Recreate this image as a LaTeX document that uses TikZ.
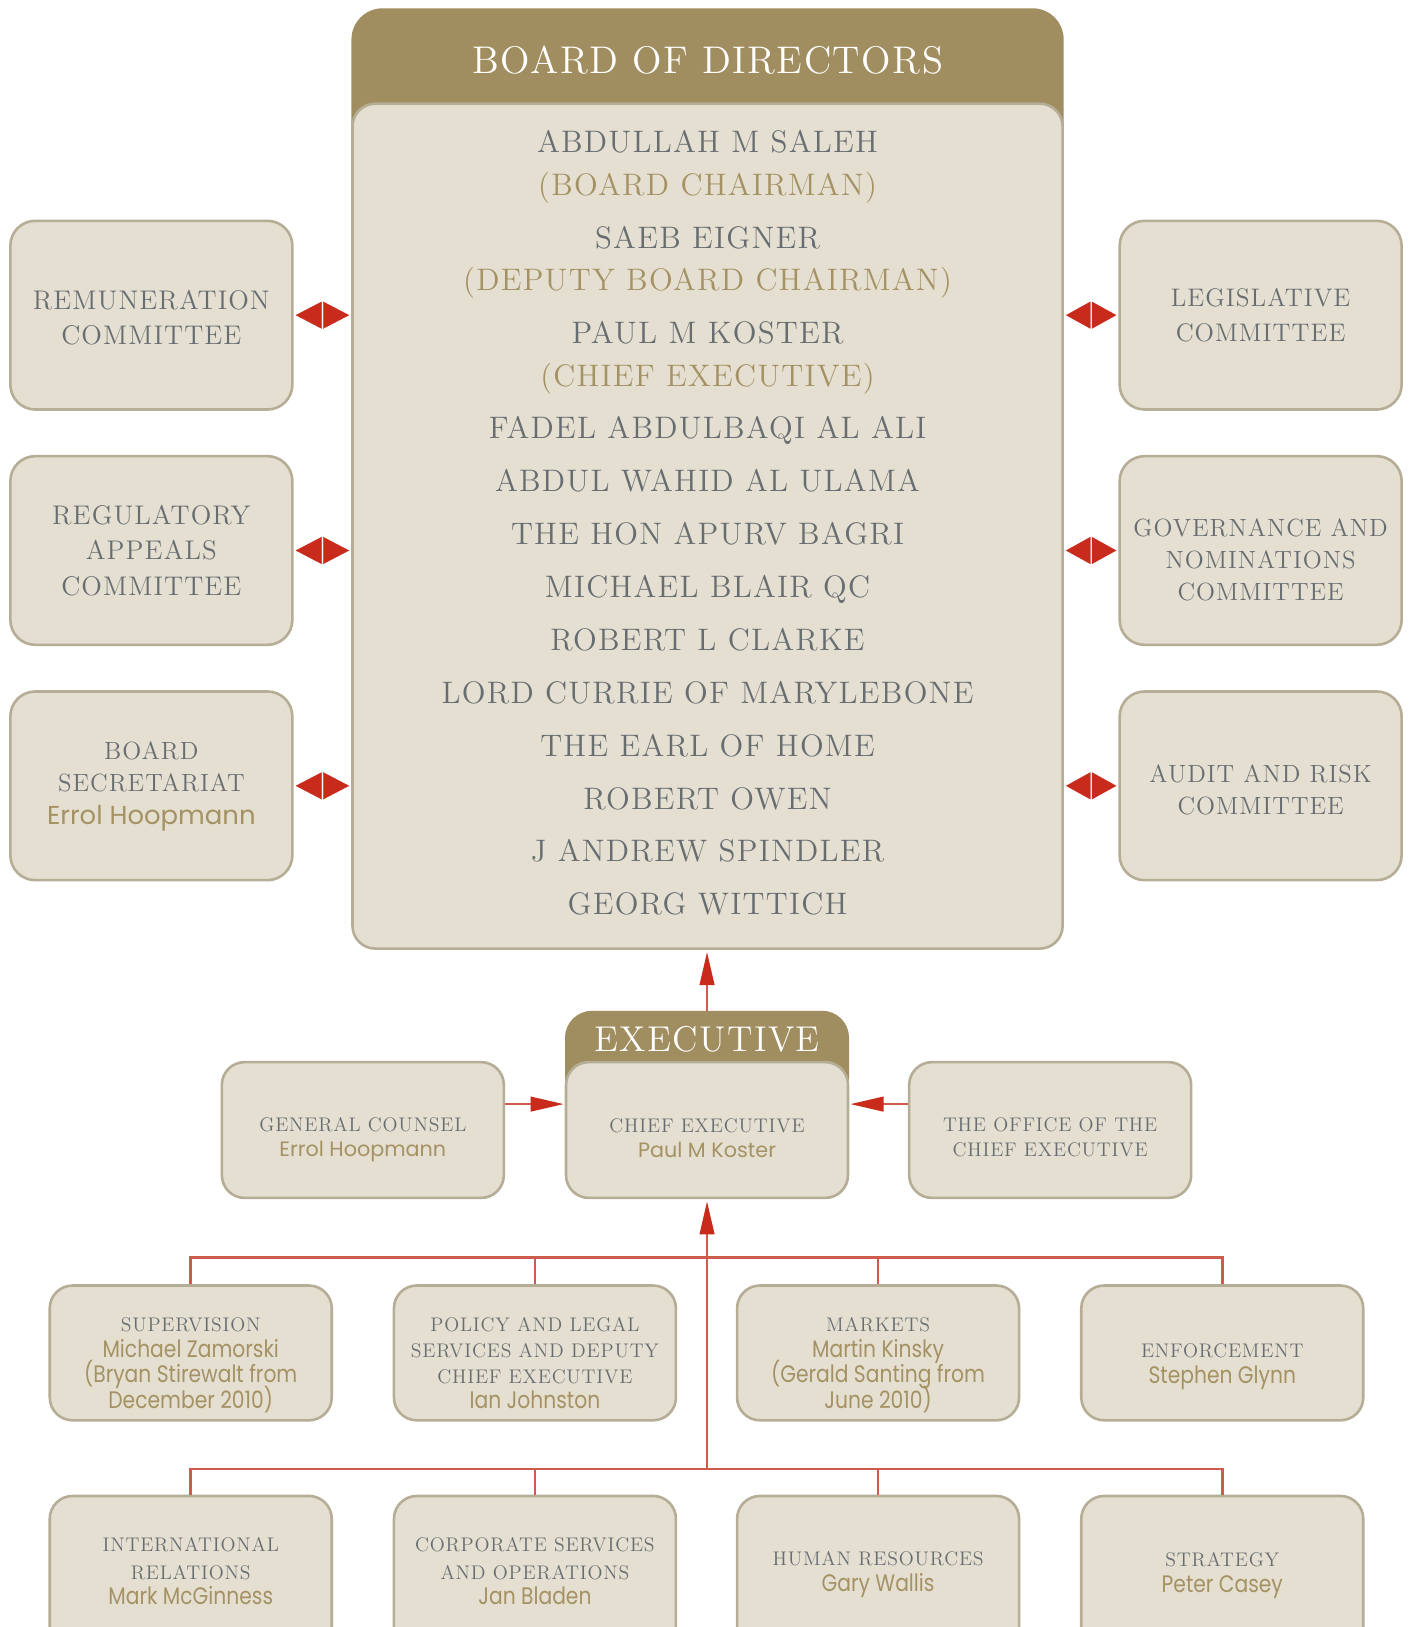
\documentclass[tikz,border=0pt]{standalone}
\usepackage{fontspec}
\usetikzlibrary{arrows.meta}
\newfontfamily\capfont{lmroman12-regular.otf}[LetterSpace=4]
\newfontfamily\namefont{Poppins}
\newfontfamily\namefontc{Poppins}[FakeStretch=0.85]
\definecolor{gold}{RGB}{161,142,96}
\definecolor{goldtext}{RGB}{165,146,100}
\definecolor{boxfill}{RGB}{228,223,208}
\definecolor{boxline}{RGB}{182,173,150}
\definecolor{greytext}{RGB}{104,109,114}
\definecolor{arrowred}{RGB}{200,42,28}
\definecolor{linered}{RGB}{206,92,76}
\setlength{\lineskiplimit}{-20pt}
\newcommand\gt[1]{{\color{goldtext}#1}}
\newcommand\nmA[1]{{\namefont\fontsize{25}{31}\selectfont\color{goldtext}#1}}
\newcommand\nmE[1]{{\namefont\fontsize{20}{24}\selectfont\color{goldtext}#1}}
\newcommand\nmB[1]{{\namefontc\fontsize{23}{24.7}\selectfont\color{goldtext}#1}}
\tikzset{
  box/.style={draw=boxline, line width=2.5pt, fill=boxfill, rounded corners=24pt,
    minimum width=272pt, inner sep=0pt},
  sidebox/.style={box, minimum height=182pt},
  exbox/.style={box, minimum height=131pt, rounded corners=22pt},
  deptbox/.style={box, minimum height=130pt, rounded corners=22pt},
  deptboxb/.style={box, minimum height=150pt, rounded corners=22pt},
  goldhead/.style={fill=gold, draw=none, inner sep=0pt},
  capL/.style={font=\capfont\fontsize{26}{34}\selectfont, text=greytext, align=center},
  capLs/.style={font=\capfont\fontsize{24.5}{34}\selectfont, text=greytext, align=center},
  capM/.style={font=\capfont\fontsize{24}{31}\selectfont, text=greytext, align=center},
  capE/.style={font=\capfont\fontsize{19}{24}\selectfont, text=greytext, align=center},
  capB/.style={font=\capfont\fontsize{19}{24.7}\selectfont, text=greytext, align=center},
  capBB/.style={font=\capfont\fontsize{19}{27}\selectfont, text=greytext, align=center},
  conn/.style={draw=linered, line width=2.5pt},
  arr/.style={conn, -{Triangle[length=32pt,width=14pt,color=arrowred]}, shorten >=1pt},
  dblL/.style={draw=white, line width=0.2pt,
    {Triangle[length=25pt,width=26pt,color=arrowred]}-{Triangle[length=25pt,width=26pt,color=arrowred]},
    shorten <=2pt, shorten >=2pt},
  dblR/.style={draw=white, line width=0.2pt,
    {Triangle[length=23.5pt,width=26pt,color=arrowred]}-{Triangle[length=23.5pt,width=26pt,color=arrowred]},
    shorten <=2pt, shorten >=2pt},
}
\begin{document}
\begin{tikzpicture}[x=1pt,y=-1pt]
\useasboundingbox (0,0) rectangle (1360,1569.4);
\fill[white] (0,0) rectangle (1360,1569.4);
\clip (0,0) rectangle (1360,1569.4);

% ---------- Board of directors ----------
\node[goldhead, rounded corners=30pt, minimum width=687pt, minimum height=150pt] (boardhead) at (682.5,83) {};
\node[box, rounded corners=22pt, minimum width=685pt, minimum height=815pt] (board) at (682.5,507.5) {};
\node[font=\capfont\fontsize{37.2}{38}\selectfont, text=white] (boardT) at (682.5,58) {BOARD OF DIRECTORS};
\node[font=\capfont\fontsize{30}{41}\selectfont, text=greytext, align=center] (members) at (682.5,504.5)
 {ABDULLAH M SALEH\\ \gt{(BOARD CHAIRMAN)}\\[10pt]
  SAEB EIGNER\\ \gt{(DEPUTY BOARD CHAIRMAN)}\\[10pt]
  PAUL M KOSTER\\ \gt{(CHIEF EXECUTIVE)}\\[10pt]
  FADEL ABDULBAQI AL ALI\\[10pt]
  ABDUL WAHID AL ULAMA\\[10pt]
  THE HON APURV BAGRI\\[10pt]
  MICHAEL BLAIR QC\\[10pt]
  ROBERT L CLARKE\\[10pt]
  LORD CURRIE OF MARYLEBONE\\[10pt]
  THE EARL OF HOME\\[10pt]
  ROBERT OWEN\\[10pt]
  J ANDREW SPINDLER\\[10pt]
  GEORG WITTICH};

% ---------- Committees ----------
\node[sidebox] (rem) at (146,304) {};
\node[sidebox] (reg) at (146,531) {};
\node[sidebox] (sec) at (146,758) {};
\node[sidebox] (leg) at (1216,304) {};
\node[sidebox] (gov) at (1216,531) {};
\node[sidebox] (aud) at (1216,758) {};
\node[capL] (remT) at (146,306.5) {REMUNERATION\\COMMITTEE};
\node[capL] (regT) at (146,531) {REGULATORY\\APPEALS\\COMMITTEE};
\node[capM] (secT) at (146,758.5) {BOARD\\SECRETARIAT\\\nmA{Errol Hoopmann}};
\node[capLs] (legT) at (1216,304) {LEGISLATIVE\\COMMITTEE};
\node[capM] (govT) at (1216,540) {GOVERNANCE AND\\NOMINATIONS\\COMMITTEE};
\node[capM] (audT) at (1216,762) {AUDIT AND RISK\\COMMITTEE};

\foreach \b in {rem,reg,sec}{\draw[dblL] (\b.east) -- (\b.east -| board.west);}
\foreach \b in {leg,gov,aud}{\draw[dblR] (\b.west -| board.east) -- (\b.west);}

% ---------- Executive ----------
\node[goldhead, rounded corners=26pt, minimum width=274pt, minimum height=90pt] (exechead) at (682,1020) {};
\node[exbox] (exec) at (682,1090) {};
\node[font=\capfont\fontsize{34.6}{36}\selectfont, text=white] (execH) at (682,1002) {EXECUTIVE};
\node[exbox] (gc) at (350,1090) {};
\node[exbox] (off) at (1013,1090) {};
\node[capE] (gcT) at (350,1099) {GENERAL COUNSEL\\\nmE{Errol Hoopmann}};
\node[capE] (execT) at (682,1098) {CHIEF EXECUTIVE\\\nmE{Paul M Koster}};
\node[capE] (offT) at (1013,1097) {THE OFFICE OF THE\\CHIEF EXECUTIVE};

\draw[arr, shorten >=2pt] (exechead.north) -- (exechead.north |- board.south);
\draw[arr] ([yshift=25pt]gc.east) -- ([yshift=25pt]exec.west);
\draw[arr] ([yshift=25pt]off.west) -- ([yshift=25pt]exec.east);

% ---------- Divisions ----------
\node[deptbox] (sup) at (184,1305) {};
\node[deptbox] (pol) at (516,1305) {};
\node[deptbox] (mkt) at (847,1305) {};
\node[deptbox] (enf) at (1179,1305) {};
\node[deptboxb] (int) at (184,1518) {};
\node[deptboxb] (corp) at (516,1518) {};
\node[deptboxb] (hr) at (847,1518) {};
\node[deptboxb] (str) at (1179,1518) {};

\node[capB] (supT) at (184,1317) {SUPERVISION\\\nmB{Michael Zamorski}\\\nmB{(Bryan Stirewalt from}\\\nmB{December 2010)}};
\node[capB] (polT) at (516,1315) {POLICY AND LEGAL\\SERVICES AND DEPUTY\\CHIEF EXECUTIVE\\\nmB{Ian Johnston}};
\node[capB] (mktT) at (847,1317) {MARKETS\\\nmB{Martin Kinsky}\\\nmB{(Gerald Santing from}\\\nmB{June 2010)}};
\node[capB] (enfT) at (1179,1318.5) {ENFORCEMENT\\\nmB{Stephen Glynn}};
\node[capBB] (intT) at (184,1515.5) {INTERNATIONAL\\RELATIONS\\[-3pt]\nmB{Mark McGinness}};
\node[capBB] (corpT) at (516,1515.5) {CORPORATE SERVICES\\AND OPERATIONS\\[-3pt]\nmB{Jan Bladen}};
\node[capB] (hrT) at (847,1518.5) {HUMAN RESOURCES\\\nmB{Gary Wallis}};
\node[capB] (strT) at (1179,1519.5) {STRATEGY\\\nmB{Peter Casey}};

\coordinate (j1) at (682,1213);
\coordinate (j2) at (682,1417);
\draw[conn] (sup.north) |- (j1) -| (enf.north);
\draw[conn] (pol.north) -- (pol.north |- j1);
\draw[conn] (mkt.north) -- (mkt.north |- j1);
\draw[conn] (int.north) |- (j2) -| (str.north);
\draw[conn] (corp.north) -- (corp.north |- j2);
\draw[conn] (hr.north) -- (hr.north |- j2);
\draw[arr, shorten >=2pt] (j2) -- (exec.south);
\end{tikzpicture}
\end{document}
